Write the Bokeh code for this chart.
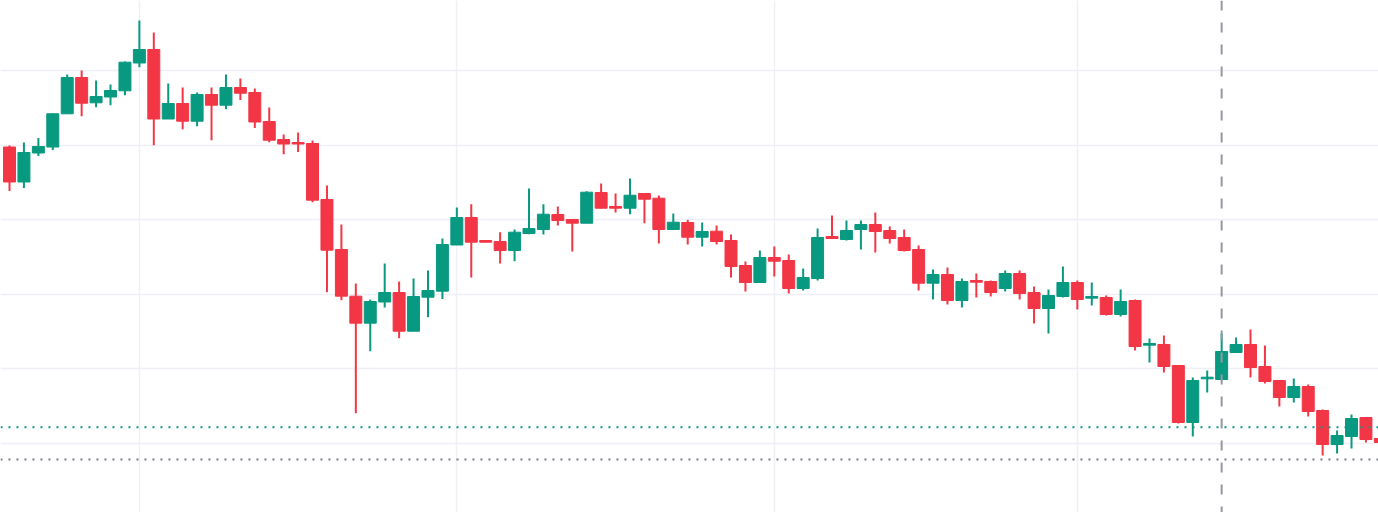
from bokeh.plotting import figure
from bokeh.models import Range1d, FixedTicker, Span, ColumnDataSource
from bokeh.embed import file_html
from bokeh.resources import INLINE

# OHLC values (arbitrary price units)
opens = [453.5, 418.5, 447.5, 453.5, 486.7, 523, 497.7, 503.5, 509.7, 537.5,
         551, 481.5, 497, 479.3, 506, 495.3, 513, 508, 479, 461,
         458, 457, 401, 351, 304.3, 277.3, 298.5, 308, 269.3, 303.3,
         309.3, 355.5, 383, 360, 359, 350, 367, 371, 386, 381,
         377.3, 408, 394, 392.3, 407, 402.3, 371, 378, 363.3, 369.3,
         360, 335, 318, 343, 340, 312, 322, 364, 361, 371,
         376, 370, 363, 351, 317.3, 326, 300, 320, 319, 312,
         327, 308, 292, 304, 318, 302.3, 303, 286, 300, 255.3,
         256, 235, 178, 221.7, 221, 248, 256, 234, 220, 203,
         214, 190, 156, 164, 183, 162]
highs = [455, 458, 462.5, 487, 526, 530, 520, 516, 539, 580,
         568, 517, 513, 508, 513, 526, 522, 512, 493, 466,
         468, 460, 415, 376, 317, 301, 337, 319, 322, 330,
         362, 393, 396.3, 360, 368.3, 371, 412, 396.3, 394, 381,
         409.3, 417, 407, 422, 407, 405, 387, 380.7, 378, 375,
         366, 339, 350, 354, 346, 332, 372, 385, 380, 380,
         388, 374, 371, 355, 331, 333, 322, 327, 320, 330,
         330, 314, 311, 334, 320, 318, 305, 311, 301, 262,
         265, 235, 223, 230, 267, 263, 271, 255, 220, 222,
         216, 191, 170, 186, 183, 162]
lows = [409.5, 412.5, 444.5, 450.5, 486.7, 484.3, 493.3, 495.3, 505.3, 533.3,
        455.3, 481.5, 471.3, 474.3, 460.3, 491.3, 500.5, 472.5, 458.3, 446.3,
        448.5, 398.3, 308.3, 300.3, 187.3, 249.3, 293, 262.3, 269.3, 283.3,
        301.5, 355.5, 323, 358.3, 337, 339.3, 366.3, 366, 375, 349,
        377.3, 392.3, 388, 386.3, 377.3, 357, 371, 356, 354, 356,
        323, 309, 318, 324, 307, 310, 320, 362, 360, 351,
        348, 357, 349, 310, 301, 296, 293, 303, 304, 309,
        301, 277, 267, 303, 291, 295, 285, 284, 250, 238,
        228, 177, 164, 208, 221, 248, 223, 217, 194, 198,
        184, 145, 147, 152, 158, 158]
closes = [418.5, 448, 454, 486.7, 523, 497.3, 504, 510, 538.3, 551,
          481.5, 497, 479.3, 506, 495.3, 513, 507.3, 478.5, 460.3, 456.5,
          456.5, 400.3, 350.3, 304.3, 277.3, 299, 308, 269.3, 304, 310,
          356, 383, 358.3, 358.3, 350, 368.3, 372, 386.3, 380, 377.3,
          408.3, 392.3, 392.3, 405.3, 401.3, 371, 378.3, 363.3, 369, 359,
          334, 318, 343, 339.3, 312, 323, 363, 362, 370, 376,
          369, 362, 350, 317.3, 326, 300, 319, 318.3, 308, 327,
          307, 292, 305, 318, 301, 304, 286, 299, 254, 257,
          234, 178, 220, 223.3, 249, 256, 233, 219, 203, 214,
          189, 156, 165, 182, 161, 158]

# time grid positions (bar index), price grid levels, marker lines
time_grid = [9, 31, 53, 74]
price_grid = [157, 231.6, 306.2, 380.8, 455.4, 530.0]
price_line_green = 173.3
price_line_gray = 141
crosshair_bar = 84

UP = "#089981"
DOWN = "#f23645"

idx = list(range(len(opens)))
colors = [UP if c >= o else DOWN for o, c in zip(opens, closes)]
tops = [max(o, c) for o, c in zip(opens, closes)]
bottoms = [min(o, c) for o, c in zip(opens, closes)]

src = ColumnDataSource(dict(x=idx, o=opens, h=highs, l=lows, c=closes,
                            top=tops, bottom=bottoms, color=colors))

p = figure(width=1378, height=512, output_backend="svg", toolbar_location=None,
           x_range=Range1d(-0.624, 94.87), y_range=Range1d(88, 600),
           min_border=0, outline_line_color=None)
p.xaxis.visible = False
p.yaxis.visible = False
p.background_fill_color = "white"
p.border_fill_color = "white"

p.xgrid.ticker = FixedTicker(ticks=time_grid)
p.ygrid.ticker = FixedTicker(ticks=price_grid)
for g in (p.xgrid, p.ygrid):
    g.grid_line_color = "#eef0f5"
    g.grid_line_width = 1.5

p.segment(x0="x", y0="l", x1="x", y1="h", line_color="color", line_width=2, source=src)
p.vbar(x="x", width=0.83, top="top", bottom="bottom", fill_color="color",
       line_color="color", line_width=1, source=src)

p.add_layout(Span(location=price_line_green, dimension="width", line_color=UP,
                  line_dash="2 6", line_width=2))
p.add_layout(Span(location=price_line_gray, dimension="width", line_color="#787b86",
                  line_dash="2 6", line_width=2))
p.add_layout(Span(location=crosshair_bar, dimension="height", line_color="#9598a1",
                  line_dash="10 12", line_width=2))

open("out.html", "w").write(file_html(p, INLINE))
